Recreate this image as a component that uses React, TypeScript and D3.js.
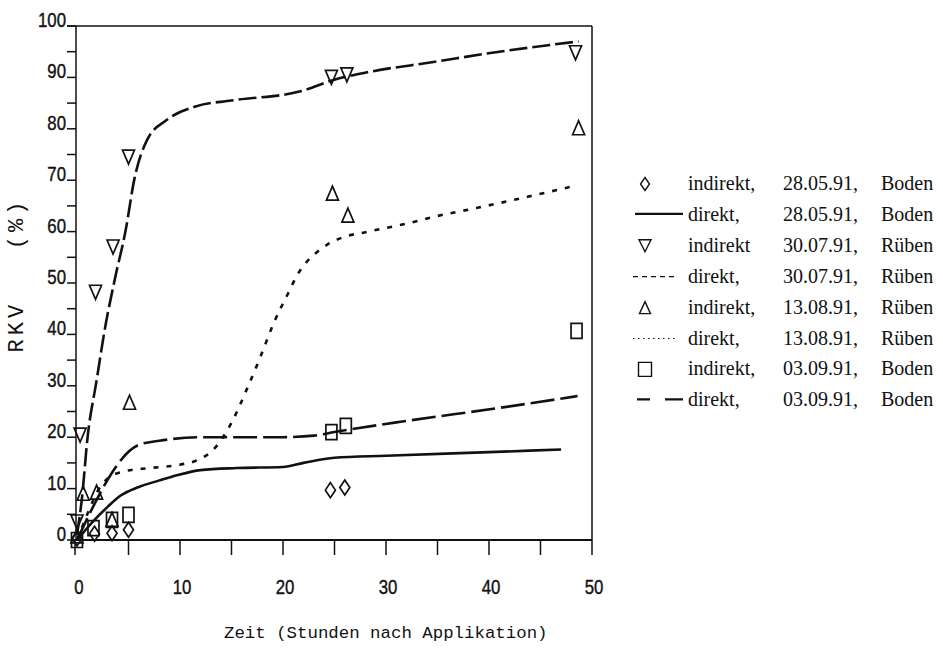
import React from 'react';
import * as d3 from 'd3';

// hours after application
const diamondX = [0, 1.7, 3.4, 5, 24.6, 26];
const diamondY = [0.3, 1.2, 1.3, 2, 9.7, 10.2];

const downX = [0, 0.3, 1.8, 3.5, 5, 24.7, 26.2, 48.4];
const downY = [3.5, 20.4, 48.2, 57, 74.5, 90, 90.5, 94.8];

const upX = [0, 0.6, 1.9, 3.4, 5.1, 24.8, 26.3, 48.7];
const upY = [0.8, 9.1, 9.3, 4, 26.8, 67.5, 63.2, 80.2];

const squareX = [0, 1.6, 3.4, 5, 24.7, 26.1, 48.5];
const squareY = [0, 2.3, 3.9, 4.9, 21, 22.2, 40.7];

// direkt curves
const solidX = [0, 1.5, 3, 4.2, 6, 8, 9.7, 12, 15.5, 20, 22, 25, 30, 40, 47];
const solidY = [0, 3.5, 6.5, 8.6, 10.3, 11.6, 12.6, 13.6, 14, 14.2, 15, 16, 16.4, 17.1, 17.6];

const rubenJulX = [0, 0.5, 1, 1.9, 2.7, 3.7, 4.7, 5.6, 6.8, 8.7, 11.6, 15, 21.7, 24.9, 28.2, 34.6, 41, 48.7];
const rubenJulY = [1, 8.5, 19.5, 31, 41, 51, 60, 70.5, 77.8, 81.7, 84.4, 85.5, 87.3, 89.5, 91, 93, 95, 97];

const rubenAugX = [0, 1, 2, 3, 4.5, 7, 9.5, 12, 13.2, 15, 16.5, 17.8, 19.1, 20.6, 21.4, 22.3, 23.3, 24.4, 25.7, 28.3, 32.3, 34.9, 38.8, 42.7, 47.9];
const rubenAugY = [0, 5, 9.5, 12, 13.3, 14, 14.5, 15.8, 17.5, 22.8, 29.4, 35.6, 42.2, 48.4, 51.6, 54.1, 56, 57.6, 58.8, 60, 61.7, 63, 64.6, 66.3, 68.7];

const bodenSepX = [0, 6, 8, 12, 20, 23, 25, 31.4, 41, 48.6];
const bodenSepY = [0, 18.5, 19.3, 20, 20, 20.3, 21, 23, 25.7, 28];

const yTicks = [0, 10, 20, 30, 40, 50, 60, 70, 80, 90, 100];
const yMinor = d3.range(0, 101, 5);
const xTicks = [0, 10, 20, 30, 40, 50];
const xMinor = d3.range(0, 51, 5);

const legendMethod = ['indirekt,', 'direkt,', 'indirekt', 'direkt,', 'indirekt,', 'direkt,', 'indirekt,', 'direkt,'];
const legendDate = ['28.05.91,', '28.05.91,', '30.07.91,', '30.07.91,', '13.08.91,', '13.08.91,', '03.09.91,', '03.09.91,'];
const legendSite = ['Boden', 'Boden', 'Rüben', 'Rüben', 'Rüben', 'Rüben', 'Boden', 'Boden'];

const x = d3.scaleLinear().domain([0, 50]).range([77, 592]);
const y = d3.scaleLinear().domain([0, 100]).range([540, 26]);

const zip = (xs: number[], ys: number[]) => xs.map((v, i) => [v, ys[i]] as [number, number]);

const line = d3.line<[number, number]>()
  .x(d => x(d[0]))
  .y(d => y(d[1]))
  .curve(d3.curveMonotoneX);

// marker shapes
const diamond = (w: number, h: number) => `M0,${-h}L${w},0L0,${h}L${-w},0Z`;
const triDown = (w: number, h: number) => `M${-w},${-h}L${w},${-h}L0,${h}Z`;
const triUp = (w: number, h: number) => `M0,${-h}L${w},${h}L${-w},${h}Z`;
const rect = (w: number, h: number) => `M${-w},${-h}H${w}V${h}H${-w}Z`;

const tickFont = "'Liberation Sans', Arial, sans-serif";
const monoFont = "'Liberation Mono', 'DejaVu Sans Mono', monospace";
const serifFont = "'Liberation Serif', 'Times New Roman', serif";

const App = () => {
  const markers = [
    { xs: diamondX, ys: diamondY, d: diamond(5, 7.5) },
    { xs: downX, ys: downY, d: triDown(6, 7) },
    { xs: upX, ys: upY, d: triUp(6, 7) },
    { xs: squareX, ys: squareY, d: rect(5.5, 7.5) },
  ];
  const curves = [
    { xs: solidX, ys: solidY, dash: undefined },
    { xs: rubenJulX, ys: rubenJulY, dash: '18,5' },
    { xs: rubenAugX, ys: rubenAugY, dash: '5,8' },
    { xs: bodenSepX, ys: bodenSepY, dash: '24,6' },
  ];
  const rowY = (i: number) => 190 + 30.9 * i;
  const legendSymbols = [
    <path d={diamond(4.5, 6.5)} />,
    <line x1={-10} x2={38} y1={-7} y2={-7} strokeWidth={2.2} />,
    <path d={triDown(6, 6)} />,
    <line x1={-12} x2={32} y1={-6} y2={-6} strokeDasharray="5,4" strokeWidth={1.2} />,
    <path d={triUp(5.5, 6)} />,
    <line x1={-12} x2={32} y1={-6} y2={-6} strokeDasharray="1.5,3.5" strokeWidth={1.2} />,
    <path d={rect(6.5, 7)} />,
    <line x1={-8} x2={38} y1={-7} y2={-7} strokeDasharray="13,15,18" strokeWidth={2.2} />,
  ];

  return (
    <svg width={943} height={658} style={{ position: 'absolute', left: 0, top: 0, background: '#fff' }}>
      <g fill="none" stroke="#111">
        {/* frame */}
        <line x1={67} x2={592} y1={y(100)} y2={y(100)} strokeWidth={1.5} />
        <line x1={x(50)} x2={x(50)} y1={y(100)} y2={y(0)} strokeWidth={1.5} />
        <line x1={76} x2={76} y1={y(100)} y2={y(0)} strokeWidth={1.5} />
        <line x1={73} x2={592} y1={y(0)} y2={y(0)} strokeWidth={2} />
        {yMinor.map(t => (
          <line key={'yt' + t} x1={67} x2={76} y1={y(t)} y2={y(t)} strokeWidth={1.5} />
        ))}
        {xMinor.map(t => (
          <line key={'xt' + t} x1={x(t) - 2 * (t === 0 ? 1 : 0)} x2={x(t) - 2 * (t === 0 ? 1 : 0)} y1={y(0)} y2={555} strokeWidth={1.5} />
        ))}
      </g>
      <g fontFamily={tickFont} fontSize={21} fill="#111" stroke="#111" strokeWidth={0.4}>
        {yTicks.map(t => (
          <text key={'yl' + t} transform={`translate(66,${y(t) + 1}) scale(0.8,1)`} textAnchor="end">{t}</text>
        ))}
        {xTicks.map(t => (
          <text key={'xl' + t} transform={`translate(${x(t) + 2},594) scale(0.8,1)`} textAnchor="middle">{t}</text>
        ))}
      </g>
      <text x={224} y={638} fontFamily={monoFont} fontSize={17.4} fill="#111">Zeit (Stunden nach Applikation)</text>
      <text transform="translate(23,275) rotate(-90)" textAnchor="middle" fontFamily={monoFont} fontSize={22} letterSpacing={4} fill="#111" xmlSpace="preserve">RKV   (%)</text>

      <g fill="none" stroke="#111" strokeWidth={2.6}>
        {curves.map((c, i) => (
          <path key={'c' + i} d={line(zip(c.xs, c.ys)) || ''} strokeDasharray={c.dash} />
        ))}
      </g>
      <g fill="none" stroke="#111" strokeWidth={1.7}>
        {markers.map((m, i) => zip(m.xs, m.ys).map((p, j) => (
          <path key={'m' + i + '-' + j} d={m.d} transform={`translate(${x(p[0])},${y(p[1])})`} />
        )))}
      </g>

      <g fontFamily={serifFont} fontSize={20} fill="#111">
        {legendMethod.map((m, i) => (
          <g key={'lg' + i}>
            <g transform={`translate(645,${rowY(i)})`} fill="none" stroke="#111" strokeWidth={1.4}>
              {i % 2 === 0 ? <g transform="translate(0,-6)">{legendSymbols[i]}</g> : legendSymbols[i]}
            </g>
            <text x={688} y={rowY(i)}>{m}</text>
            <text x={783} y={rowY(i)}>{legendDate[i]}</text>
            <text x={881} y={rowY(i)}>{legendSite[i]}</text>
          </g>
        ))}
      </g>
    </svg>
  );
};

export default App;
